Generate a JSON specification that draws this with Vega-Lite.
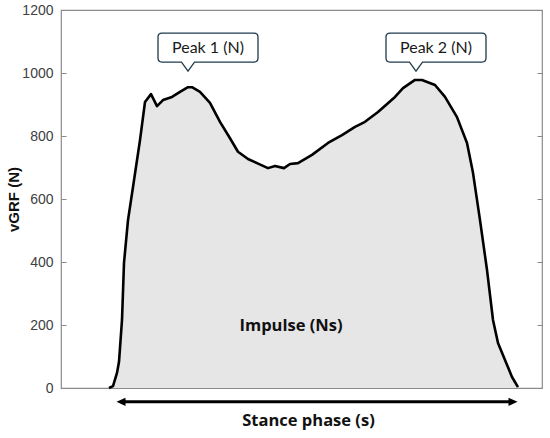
{
  "$schema": "https://vega.github.io/schema/vega-lite/v6.json",
  "width": 481,
  "height": 378,
  "autosize": {"type": "none"},
  "padding": {"left": 61, "top": 10, "right": 8, "bottom": 50},
  "background": "white",
  "config": {
    "view": {"stroke": "#8a8a8a", "strokeWidth": 1.2},
    "axis": {"domain": false}
  },
  "datasets": {
    "grf": [
      {"t": 48, "v": 0}, {"t": 52, "v": 6}, {"t": 56, "v": 48}, {"t": 58, "v": 83},
      {"t": 61, "v": 216}, {"t": 63, "v": 397}, {"t": 67, "v": 533}, {"t": 72, "v": 638},
      {"t": 79, "v": 787}, {"t": 84, "v": 908}, {"t": 90, "v": 933}, {"t": 96, "v": 895},
      {"t": 102, "v": 914}, {"t": 111, "v": 924}, {"t": 119, "v": 940}, {"t": 127, "v": 955},
      {"t": 131, "v": 955}, {"t": 139, "v": 940}, {"t": 149, "v": 905}, {"t": 159, "v": 845},
      {"t": 169, "v": 793}, {"t": 177, "v": 750}, {"t": 187, "v": 727}, {"t": 196, "v": 714},
      {"t": 207, "v": 698}, {"t": 214, "v": 705}, {"t": 223, "v": 698}, {"t": 229, "v": 711},
      {"t": 237, "v": 714}, {"t": 251, "v": 740}, {"t": 267, "v": 778}, {"t": 281, "v": 803},
      {"t": 294, "v": 829}, {"t": 304, "v": 845}, {"t": 317, "v": 876}, {"t": 334, "v": 924},
      {"t": 342, "v": 952}, {"t": 354, "v": 978}, {"t": 361, "v": 978}, {"t": 374, "v": 962},
      {"t": 384, "v": 924}, {"t": 396, "v": 860}, {"t": 406, "v": 778}, {"t": 412, "v": 683},
      {"t": 419, "v": 533}, {"t": 426, "v": 375}, {"t": 432, "v": 216}, {"t": 437, "v": 143},
      {"t": 444, "v": 89}, {"t": 451, "v": 35}, {"t": 457, "v": 3}
    ],
    "callouts": [
      {"label": "Peak 1 (N)", "t": 127, "v": 1006},
      {"label": "Peak 2 (N)", "t": 355, "v": 1006}
    ],
    "impulse": [
      {"label": "Impulse (Ns)", "t": 230, "v": 197}
    ],
    "arrow": [
      {"t": 60, "t2": 452, "v": -44}
    ],
    "arrowheads": [
      {"t": 60, "v": -44, "end": "start"},
      {"t": 452, "v": -44, "end": "end"}
    ]
  },
  "layer": [
    {
      "data": {"name": "grf"},
      "mark": {"type": "area", "color": "#e6e6e6"},
      "encoding": {
        "x": {
          "field": "t", "type": "quantitative",
          "scale": {"domain": [0, 481], "nice": false},
          "axis": {
            "labels": false, "ticks": false, "grid": false, "title": "Stance phase (s)",
            "titleFont": "Open Sans", "titleFontSize": 16.5, "titleFontWeight": "bold",
            "titleColor": "#111", "titlePadding": 24, "titleX": 247
          }
        },
        "y": {
          "field": "v", "type": "quantitative",
          "scale": {"domain": [0, 1200], "nice": false},
          "axis": {
            "orient": "left", "values": [0, 200, 400, 600, 800, 1000, 1200], "format": "d",
            "ticks": false, "labelPadding": 8, "zindex": 1,
            "grid": true, "gridColor": "#8a8a8a", "gridWidth": 1.2, "gridDash": [5, 471],
            "labelFont": "Liberation Sans", "labelFontSize": 14, "labelColor": "#404040",
            "title": "vGRF (N)", "titleFont": "Liberation Sans", "titleFontSize": 15,
            "titleFontWeight": "bold", "titleColor": "#111", "titlePadding": 0
          }
        }
      }
    },
    {
      "data": {"name": "grf"},
      "mark": {"type": "line", "color": "#000", "strokeWidth": 2.6, "strokeJoin": "round"},
      "encoding": {
        "x": {"field": "t", "type": "quantitative", "scale": {"domain": [0, 481], "nice": false}},
        "y": {"field": "v", "type": "quantitative", "scale": {"domain": [0, 1200], "nice": false}}
      }
    },
    {
      "data": {"name": "callouts"},
      "mark": {
        "type": "point", "filled": true, "fill": "white", "stroke": "#1f3b4d",
        "strokeWidth": 1.3, "opacity": 1, "size": 10000,
        "shape": "M 0 0 L 0.13 -0.18 L 1.32 -0.18 Q 1.4 -0.18 1.4 -0.26 L 1.4 -0.68 Q 1.4 -0.76 1.32 -0.76 L -0.52 -0.76 Q -0.6 -0.76 -0.6 -0.68 L -0.6 -0.26 Q -0.6 -0.18 -0.52 -0.18 L -0.13 -0.18 Z"
      },
      "encoding": {
        "x": {"field": "t", "type": "quantitative", "scale": {"domain": [0, 481], "nice": false}},
        "y": {"field": "v", "type": "quantitative", "scale": {"domain": [0, 1200], "nice": false}}
      }
    },
    {
      "data": {"name": "callouts"},
      "mark": {
        "type": "text", "dx": 20, "dy": -23, "align": "center", "baseline": "middle",
        "font": "Lato", "fontSize": 16, "color": "#1a1a1a"
      },
      "encoding": {
        "x": {"field": "t", "type": "quantitative", "scale": {"domain": [0, 481], "nice": false}},
        "y": {"field": "v", "type": "quantitative", "scale": {"domain": [0, 1200], "nice": false}},
        "text": {"field": "label"}
      }
    },
    {
      "data": {"name": "impulse"},
      "mark": {
        "type": "text", "align": "center", "baseline": "middle",
        "font": "Open Sans", "fontSize": 16.5, "fontWeight": "bold", "color": "#111"
      },
      "encoding": {
        "x": {"field": "t", "type": "quantitative", "scale": {"domain": [0, 481], "nice": false}},
        "y": {"field": "v", "type": "quantitative", "scale": {"domain": [0, 1200], "nice": false}},
        "text": {"field": "label"}
      }
    },
    {
      "data": {"name": "arrow"},
      "mark": {"type": "rule", "color": "#000", "strokeWidth": 3},
      "encoding": {
        "x": {"field": "t", "type": "quantitative", "scale": {"domain": [0, 481], "nice": false}},
        "x2": {"field": "t2"},
        "y": {"field": "v", "type": "quantitative", "scale": {"domain": [0, 1200], "nice": false}}
      }
    },
    {
      "data": {"name": "arrowheads"},
      "mark": {"type": "point", "filled": true, "color": "#000", "opacity": 1, "size": 81},
      "encoding": {
        "x": {"field": "t", "type": "quantitative", "scale": {"domain": [0, 481], "nice": false}},
        "y": {"field": "v", "type": "quantitative", "scale": {"domain": [0, 1200], "nice": false}},
        "shape": {
          "field": "end", "type": "nominal", "legend": null,
          "scale": {
            "domain": ["start", "end"],
            "range": ["M -1 0 L 1 -0.9 L 1 0.9 Z", "M 1 0 L -1 -0.9 L -1 0.9 Z"]
          }
        }
      }
    }
  ]
}
